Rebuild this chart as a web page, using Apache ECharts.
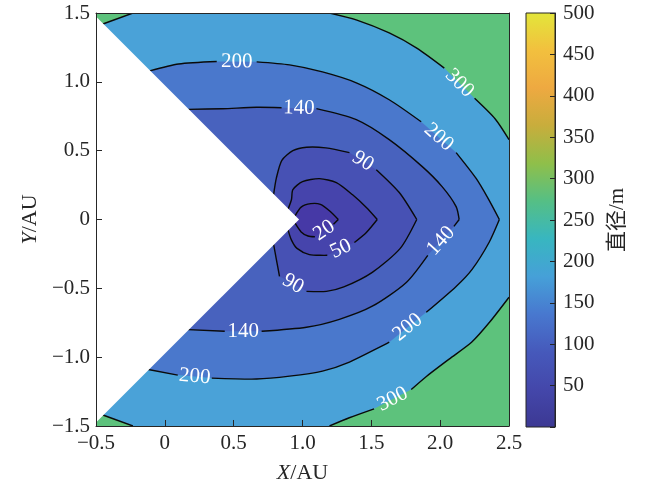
<!DOCTYPE html>
<html>
<head>
<meta charset="utf-8">
<script src="https://cdn.jsdelivr.net/npm/echarts@6/dist/echarts.min.js"></script>
<style>
html, body { margin: 0; padding: 0; background: #fff; }
#main { width: 650px; height: 489px; }
</style>
</head>
<body>
<div id="main"></div>
<script type="text/javascript">
// contour lines, [X, Y] in AU, null = gap where a label sits
var c20Up = [[0.945,0.025],[0.99,0.09],[1.06,0.115],[1.13,0.11],[1.20,0.06],[1.26,0]];
var c20Lo = [[0.945,-0.025],[0.99,-0.09],[1.04,-0.12],[1.09,-0.125],null,[1.225,-0.035],[1.26,0]];
var c50Up = [[0.895,0.075],[0.92,0.145],[0.93,0.217],[1.0,0.275],[1.123,0.297],[1.246,0.268],[1.362,0.181],[1.464,0.087],[1.543,0]];
var c50Lo = [[0.895,-0.075],[0.92,-0.15],[0.96,-0.21],[1.05,-0.255],[1.18,-0.26],null,[1.377,-0.167],[1.464,-0.094],[1.543,0]];
var c90Up = [[0.79,0.18],[0.81,0.30],[0.85,0.43],[0.93,0.50],[1.03,0.525],[1.17,0.52],[1.341,0.486],null,[1.536,0.362],[1.703,0.196],[1.83,0]];
var c90Lo = [[0.79,-0.18],[0.81,-0.29],[0.833,-0.413],null,[1.029,-0.522],[1.174,-0.522],[1.30,-0.49],[1.507,-0.384],[1.71,-0.21],[1.83,0]];
var c140Up = [[0.17,0.80],[0.42,0.805],[0.667,0.815],[0.848,0.812],null,[1.101,0.805],[1.391,0.725],[1.63,0.58],[1.87,0.384],[2.014,0.239],[2.116,0.094],[2.138,0]];
var c140Lo = [[0.17,-0.80],[0.435,-0.812],null,[0.703,-0.812],[1.029,-0.783],[1.268,-0.725],[1.507,-0.63],[1.754,-0.457],[1.91,-0.26],null,[2.10,-0.05],[2.138,0]];
var c200Up = [[-0.11,1.08],[0.10,1.13],[0.377,1.148],null,[0.667,1.145],[0.906,1.123],[1.145,1.072],[1.391,0.993],[1.63,0.87],[1.862,0.71],null,[2.116,0.486],[2.26,0.30],[2.35,0.15],[2.43,0]];
var c200Lo = [[-0.12,-1.09],[0.094,-1.13],null,[0.341,-1.152],[0.667,-1.159],[0.906,-1.138],[1.145,-1.101],[1.341,-1.036],[1.63,-0.891],null,[1.899,-0.674],[2.116,-0.486],[2.232,-0.362],[2.355,-0.167],[2.43,0]];
var c300TopLeft = [[-0.45,1.42],[-0.232,1.5]];
var c300Up = [[1.196,1.5],[1.39,1.45],[1.63,1.355],[1.83,1.245],[2.03,1.10],null,[2.25,0.88],[2.40,0.73],[2.5,0.58]];
var c300Lo = [[2.5,-0.565],[2.36,-0.745],[2.23,-0.89],[2.065,-1.014],[1.90,-1.14],[1.79,-1.235],null,[1.52,-1.375],[1.34,-1.44],[1.196,-1.5]];
var c300BotLeft = [[-0.232,-1.5],[-0.45,-1.42]];
// blank wedge with no data
var wedge = [[-0.5,1.475],[0.975,0],[-0.5,-1.475]];
// colour bar range (m)
var cbarRange = [0, 500];

function clean(a) { return a.filter(function (p) { return p !== null; }); }
function rev(a) { return clean(a).reverse(); }

// filled regions, outermost first (background of the grid is the >300 band)
var regions = [
    clean(c300TopLeft).concat(clean(c300Up), clean(c300Lo), clean(c300BotLeft)),
    clean(c200Up).concat(rev(c200Lo)),
    clean(c140Up).concat(rev(c140Lo)),
    clean(c90Up).concat(rev(c90Lo)),
    clean(c50Up).concat(rev(c50Lo)),
    clean(c20Up).concat(rev(c20Lo))
];
var lines = [
    {pts: c300TopLeft, lev: 300}, {pts: c300Up, lev: 300}, {pts: c300Lo, lev: 300}, {pts: c300BotLeft, lev: 300},
    {pts: c200Up, lev: 200}, {pts: c200Lo, lev: 200},
    {pts: c140Up, lev: 140}, {pts: c140Lo, lev: 140},
    {pts: c90Up, lev: 90}, {pts: c90Lo, lev: 90},
    {pts: c50Up, lev: 50}, {pts: c50Lo, lev: 50},
    {pts: c20Up, lev: 20}, {pts: c20Lo, lev: 20}
];

var serif = "'Liberation Serif','Times New Roman','Noto Sans CJK SC',serif";
var ink = '#262626';
var outerColor = '#5dc27c';
var fillColors = ['#4aa2d8', '#4a78cc', '#4862be', '#4751b4', '#4644ac', '#4639a6'];
var parula = ['#3c3893', '#4447aa', '#4659bb', '#4878cf', '#46a0d8', '#38b6c0',
              '#55bf85', '#8fbf4a', '#c8ad3c', '#eea941', '#f2c03e', '#e3e63a'];

function renderFills(params, api) {
    var children = regions.map(function (r, i) {
        return {
            type: 'polygon',
            shape: {points: r.map(function (p) { return api.coord(p); })},
            style: {fill: fillColors[i]}
        };
    });
    return {type: 'group', children: children};
}

function renderLines(params, api) {
    var children = [];
    lines.forEach(function (c) {
        var pts = c.pts, seg = [];
        for (var i = 0; i <= pts.length; i++) {
            var p = pts[i];
            if (p === null || i === pts.length) {
                if (seg.length > 1) {
                    children.push({
                        type: 'polyline',
                        shape: {points: seg, smooth: 0.25},
                        style: {stroke: '#0a0a0a', lineWidth: 1.4, fill: null}
                    });
                }
                seg = [];
                if (p === null) {
                    // label sits in the gap, turned along the line
                    var a = api.coord(pts[i - 1]), b = api.coord(pts[i + 1]);
                    var ang = Math.atan2(a[1] - b[1], b[0] - a[0]);
                    if (ang > Math.PI / 2) ang -= Math.PI;
                    if (ang < -Math.PI / 2) ang += Math.PI;
                    children.push({
                        type: 'text',
                        x: (a[0] + b[0]) / 2,
                        y: (a[1] + b[1]) / 2,
                        rotation: ang,
                        style: {
                            text: String(c.lev), fill: '#fff', fontSize: 21,
                            fontFamily: serif, align: 'center', verticalAlign: 'middle'
                        }
                    });
                }
            } else {
                seg.push(api.coord(p));
            }
        }
    });
    return {type: 'group', children: children};
}

function renderWedge(params, api) {
    return {
        type: 'polygon',
        shape: {points: wedge.map(function (p) { return api.coord(p); })},
        style: {fill: '#ffffff'}
    };
}

function renderBar(params, api) {
    var p0 = api.coord([0, cbarRange[1]]), p1 = api.coord([1, cbarRange[0]]);
    var stops = parula.map(function (c, i) { return {offset: i / (parula.length - 1), color: c}; });
    return {
        type: 'rect',
        shape: {x: p0[0], y: p0[1], width: p1[0] - p0[0], height: p1[1] - p0[1]},
        style: {fill: new echarts.graphic.LinearGradient(0, 1, 0, 0, stops), stroke: ink, lineWidth: 1}
    };
}

function fmt(v) {
    if (v === 0) return '0';
    return (v < 0 ? '\u2212' : '') + Math.abs(v).toFixed(1);
}

var txt = {color: ink, fontFamily: serif, fontSize: 21};
var nameStyle = {
    color: ink, fontFamily: serif, fontSize: 22,
    rich: {i: {fontStyle: 'italic', fontFamily: serif, fontSize: 22, color: ink}}
};

var myChart = echarts.init(document.getElementById('main'));
myChart.setOption({
    animation: false,
    grid: [
        {left: 96, top: 13, width: 413, height: 414, show: true, backgroundColor: outerColor, borderWidth: 0},
        {left: 526, top: 13, width: 29, height: 414}
    ],
    xAxis: [
        {
            gridIndex: 0, type: 'value', min: -0.5, max: 2.5, interval: 0.5, position: 'bottom', z: 5,
            axisLine: {onZero: false, lineStyle: {color: ink, width: 1}},
            axisTick: {inside: true, length: 6, lineStyle: {color: ink}},
            axisLabel: Object.assign({margin: 7, formatter: fmt}, txt),
            splitLine: {show: false},
            name: '{i|X}/AU', nameLocation: 'middle', nameGap: 36, nameTextStyle: nameStyle
        },
        {
            gridIndex: 0, type: 'value', min: -0.5, max: 2.5, position: 'top', z: 5,
            axisLine: {onZero: false, lineStyle: {color: ink, width: 1}},
            axisTick: {show: false}, axisLabel: {show: false}, splitLine: {show: false}
        },
        {gridIndex: 1, type: 'value', min: 0, max: 1, show: false}
    ],
    yAxis: [
        {
            gridIndex: 0, type: 'value', min: -1.5, max: 1.5, interval: 0.5, position: 'left', z: 5,
            axisLine: {onZero: false, lineStyle: {color: ink, width: 1}},
            axisTick: {inside: true, length: 6, lineStyle: {color: ink}},
            axisLabel: Object.assign({margin: 6, formatter: fmt}, txt),
            splitLine: {show: false},
            name: '{i|Y}/AU', nameLocation: 'middle', nameRotate: 90, nameGap: 52, nameTextStyle: nameStyle
        },
        {
            gridIndex: 0, type: 'value', min: -1.5, max: 1.5, position: 'right', z: 5,
            axisLine: {onZero: false, lineStyle: {color: ink, width: 1}},
            axisTick: {show: false}, axisLabel: {show: false}, splitLine: {show: false}
        },
        {
            gridIndex: 1, type: 'value', min: cbarRange[0], max: cbarRange[1], interval: 50, position: 'right', z: 5,
            axisLine: {onZero: false, lineStyle: {color: ink, width: 1}},
            axisTick: {inside: true, length: 5, lineStyle: {color: ink}},
            axisLabel: Object.assign({margin: 8, formatter: function (v) { return v === 0 ? '' : String(v); }}, txt),
            splitLine: {show: false},
            name: '直径/m', nameLocation: 'middle', nameRotate: 90, nameGap: 52,
            nameTextStyle: {color: ink, fontFamily: serif, fontSize: 21}
        }
    ],
    series: [
        {type: 'custom', xAxisIndex: 0, yAxisIndex: 0, clip: true, z: 2, silent: true, renderItem: renderFills, data: [[0, 0]]},
        {type: 'custom', xAxisIndex: 0, yAxisIndex: 0, clip: true, z: 3, silent: true, renderItem: renderLines, data: [[0, 0]]},
        {type: 'custom', xAxisIndex: 0, yAxisIndex: 0, clip: true, z: 4, silent: true, renderItem: renderWedge, data: [[0, 0]]},
        {type: 'custom', xAxisIndex: 2, yAxisIndex: 2, z: 2, silent: true, renderItem: renderBar, data: [[0, 0]]}
    ]
});
</script>
</body>
</html>
